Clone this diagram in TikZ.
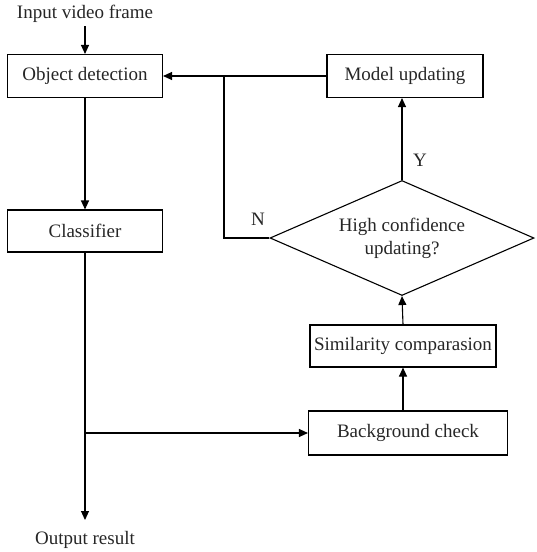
\documentclass[tikz,border=0pt]{standalone}
\usepackage{fontspec}
\setmainfont{Liberation Serif}
\usetikzlibrary{shapes.geometric,arrows.meta}
\begin{document}
\begin{tikzpicture}[x=1pt,y=-1pt,
  every node/.style={font=\fontsize{19}{23}\selectfont, text=black!85},
  box/.style={draw, line width=1.1pt, inner sep=0pt},
  conn/.style={line width=1.1pt, -{Triangle[length=9pt,width=8pt]}},
  plain/.style={line width=1.1pt}]
\useasboundingbox (0,0) rectangle (536,552);
\node (in) at (85,14) {Input video frame};
\node[box, minimum width=155pt, minimum height=43pt] (od) at (85,76) {Object detection};
\node[box, minimum width=156pt, minimum height=43pt] (mu) at (405,76) {Model updating};
\node[box, minimum width=155pt, minimum height=42pt] (cl) at (85,231) {Classifier};
\node[draw, line width=1.1pt, shape=diamond, aspect=2.31, minimum width=264pt, minimum height=115pt, inner sep=0pt, align=center] (hc) at (402,238) {High confidence\\updating?};
\node[box, minimum width=186pt, minimum height=42pt] (sc) at (403,346) {Similarity comparasion};
\node[box, minimum width=199pt, minimum height=44pt] (bc) at (408,433) {Background check};
\node (out) at (85,540) {Output result};
\coordinate (nk) at (224,238);
\coordinate (nt) at (224,76);
\coordinate (br) at (85,433);
\coordinate (oe) at (85,520);
\node (nl) at (258,219) {N};
\node (yl) at (420,160) {Y};
\draw[conn] (in) -- (od);
\draw[conn] (od) -- (cl);
\draw[conn] (mu) -- (od);
\draw[plain] (hc.west) -- (nk) -- (nt);
\draw[conn] (hc.north) -- (mu.south -| hc.north);
\draw[conn] (sc.north) -- (hc.south);
\draw[conn] (bc.north -| sc.north) -- (sc.south);
\draw[conn] (cl) -- (oe);
\draw[conn] (br) -- (bc.west);
\end{tikzpicture}
\end{document}
